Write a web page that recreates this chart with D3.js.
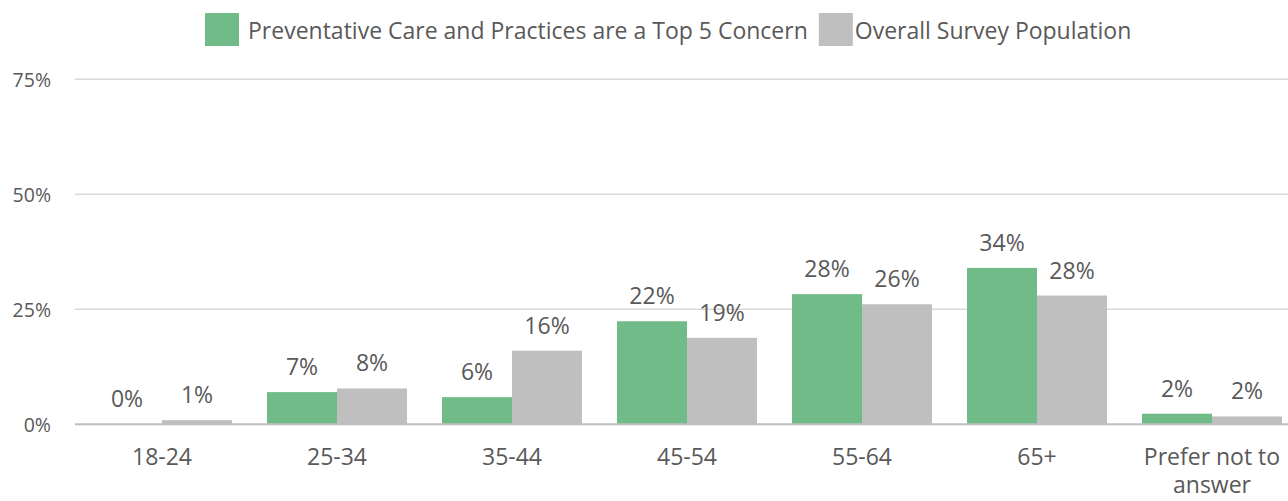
<!DOCTYPE html>
<meta charset="utf-8">
<script src="https://d3js.org/d3.v7.min.js"></script>
<style>
  body { margin: 0; background: #fff; }
  text { font-family: "Open Sans", sans-serif; fill: #595959; }
</style>
<body>
<script>
// Chart data
var categories = ["18-24", "25-34", "35-44", "45-54", "55-64", "65+", "Prefer not to answer"];
var seriesNames = ["Preventative Care and Practices are a Top 5 Concern", "Overall Survey Population"];
var concernValues = [0, 7.0, 5.9, 22.4, 28.3, 34, 2.3];
var overallValues = [0.9, 7.8, 16, 18.8, 26.1, 28, 1.7];
var yTicks = [0, 25, 50, 75];
var colors = ["#71bb88", "#bfbfbf"];

var width = 1288, height = 501;

var svg = d3.select("body")
  .append("svg")
  .attr("width", width)
  .attr("height", height);

// Scales
var x0 = d3.scaleBand()
  .domain(categories)
  .range([74.5, 1299.5])
  .paddingInner(0.2)
  .paddingOuter(0.1);

var x1 = d3.scaleBand()
  .domain([0, 1])
  .range([0, x0.bandwidth()]);

var y = d3.scaleLinear()
  .domain([0, 75])
  .range([424.3, 79.3]);

// Gridlines
svg.selectAll(".grid")
  .data(yTicks.filter(function(d) { return d > 0; }))
  .enter()
  .append("line")
  .attr("x1", 75)
  .attr("x2", width)
  .attr("y1", function(d) { return y(d); })
  .attr("y2", function(d) { return y(d); })
  .attr("stroke", "#d9d9d9")
  .attr("stroke-width", 1.5);

// Y tick labels
svg.selectAll(".ytick")
  .data(yTicks)
  .enter()
  .append("text")
  .attr("x", 51)
  .attr("y", function(d) { return y(d); })
  .attr("text-anchor", "end")
  .attr("dominant-baseline", "central")
  .style("font-size", "19.5px")
  .text(function(d) { return d + "%"; });

// Bars
var rows = categories.map(function(c, i) {
  return { cat: c, values: [concernValues[i], overallValues[i]] };
});

var groups = svg.selectAll(".group")
  .data(rows)
  .enter()
  .append("g")
  .attr("transform", function(d) { return "translate(" + x0(d.cat) + ",0)"; });

groups.selectAll("rect")
  .data(function(d) { return d.values; })
  .enter()
  .append("rect")
  .attr("x", function(d, i) { return x1(i); })
  .attr("width", x1.bandwidth())
  .attr("y", function(d) { return y(d); })
  .attr("height", function(d) { return y(0) - y(d); })
  .attr("fill", function(d, i) { return colors[i]; });

groups.selectAll(".label")
  .data(function(d) { return d.values; })
  .enter()
  .append("text")
  .attr("x", function(d, i) { return x1(i) + x1.bandwidth() / 2; })
  .attr("y", function(d) { return y(d) - 17; })
  .attr("text-anchor", "middle")
  .style("font-size", "23px")
  .text(function(d) { return Math.round(d) + "%"; });

// Zero line
svg.append("line")
  .attr("x1", 75)
  .attr("x2", width)
  .attr("y1", y(0))
  .attr("y2", y(0))
  .attr("stroke", "#bfbfbf")
  .attr("stroke-width", 2);

// Category labels
var catLines = {"Prefer not to answer": ["Prefer not to", "answer"]};
svg.selectAll(".cat")
  .data(categories)
  .enter()
  .append("text")
  .attr("x", function(d) { return x0(d) + x0.bandwidth() / 2; })
  .attr("y", 465)
  .attr("text-anchor", "middle")
  .style("font-size", "23px")
  .each(function(d) {
    var lines = catLines[d] || [d];
    var t = d3.select(this);
    lines.forEach(function(l, i) {
      t.append("tspan")
        .attr("x", x0(d) + x0.bandwidth() / 2)
        .attr("dy", i === 0 ? 0 : 27.5)
        .text(l);
    });
  });

// Legend
var legend = svg.append("g");
var lx = 205;
var textGap = [43, 36];
seriesNames.forEach(function(name, i) {
  legend.append("rect")
    .attr("x", lx)
    .attr("y", 13)
    .attr("width", 34)
    .attr("height", 33)
    .attr("fill", colors[i]);
  var t = legend.append("text")
    .attr("x", lx + textGap[i])
    .attr("y", 29.5)
    .attr("dominant-baseline", "central")
    .style("font-size", "23px")
    .text(name);
  lx = lx + textGap[i] + t.node().getComputedTextLength() + 11;
});
</script>
</body>
</html>
